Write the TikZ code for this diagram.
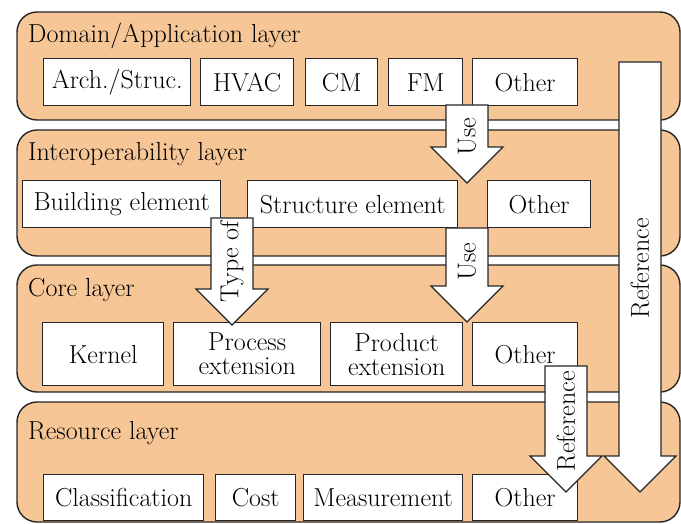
\documentclass[tikz,border=0pt]{standalone}
\usepackage{fontspec}
\usepackage{tikz}
\usetikzlibrary{calc}
\definecolor{layerfill}{RGB}{247,198,150}
\tikzset{
        layer/.style={draw=black!85, fill=layerfill, line width=1.4pt, rounded corners=20pt},
        part/.style={draw=black!85, fill=white, line width=1.4pt, inner sep=0pt, align=center, anchor=north west},
        title/.style={anchor=base west, inner sep=0pt},
        blockarrow/.style={draw=black!85, fill=white, line width=1.4pt},
        arrowlabel/.style={rotate=90, inner sep=0pt},
}
% #1 tail, #2 tip, #3 label name, #4 label position, #5 label
\newcommand{\layerarrow}[5]{%
        \draw[blockarrow] ($(#1)+(-21,0)$) -- ($(#1)+(21,0)$) -- ($(#2)+(21,-36)$) -- ($(#2)+(36,-36)$)
                -- (#2) -- ($(#2)+(-36,-36)$) -- ($(#2)+(-21,-36)$) -- cycle;
        \node[arrowlabel] (#3) at ($(#1)!#4!(#2)$) {#5};
}

\begin{document}
\begin{tikzpicture}[x=1pt, y=-1pt, font=\fontsize{26}{24}\selectfont]
                \useasboundingbox (0,0) rectangle (681,524);
                % layers
                \draw[layer] (17,12) rectangle (680,120);
                \draw[layer] (17,130) rectangle (680,256);
                \draw[layer] (17,265) rectangle (680,392);
                \draw[layer] (17,402) rectangle (680,522);
                \node[title] (domain) at (28,43) {Domain/Application layer};
                \node[title] (interop) at (28,161) {Interoperability layer};
                \node[title] (core) at (28,296) {Core layer};
                \node[title] (resource) at (28,439) {Resource layer};
                % domain/application
                \node[part, minimum width=147pt, minimum height=47pt] (arch) at (43,58) {Arch./Struc.};
                \node[part, minimum width=93pt, minimum height=47pt] (hvac) at (200,58) {HVAC};
                \node[part, minimum width=72pt, minimum height=47pt] (cm) at (305,58) {CM};
                \node[part, minimum width=74pt, minimum height=47pt] (fm) at (388,58) {FM};
                \node[part, minimum width=105pt, minimum height=47pt] (domother) at (472,58) {Other};
                % interoperability
                \node[part, minimum width=198pt, minimum height=47pt] (building) at (22,180) {Building element};
                \node[part, minimum width=210pt, minimum height=47pt] (structure) at (247,180) {Structure element};
                \node[part, minimum width=103pt, minimum height=47pt] (interother) at (487,180) {Other};
                % core
                \node[part, minimum width=121pt, minimum height=63pt] (kernel) at (42,322) {Kernel};
                \node[part, minimum width=147pt, minimum height=63pt] (process) at (173,322) {Process\\extension};
                \node[part, minimum width=132pt, minimum height=63pt] (product) at (330,322) {Product\\extension};
                \node[part, minimum width=105pt, minimum height=63pt] (coreother) at (472,322) {Other};
                % resource
                \node[part, minimum width=160pt, minimum height=46pt] (classif) at (43,474) {Classification};
                \node[part, minimum width=80pt, minimum height=46pt] (cost) at (215,474) {Cost};
                \node[part, minimum width=159pt, minimum height=46pt] (measure) at (303,474) {Measurement};
                \node[part, minimum width=105pt, minimum height=46pt] (resother) at (472,474) {Other};
                % arrows
                \coordinate (usetail) at (467,105);
                \coordinate (usetip) at (467,183);
                \coordinate (usetailb) at (467,228);
                \coordinate (usetipb) at (467,322);
                \coordinate (typetail) at (232,218);
                \coordinate (typetip) at (232,325);
                \coordinate (reftail) at (640,62);
                \coordinate (reftip) at (640,492);
                \coordinate (reftailb) at (566,366);
                \coordinate (reftipb) at (566,492);
                \layerarrow{usetail}{usetip}{use}{0.41}{Use}
                \layerarrow{usetailb}{usetipb}{useb}{0.36}{Use}
                \layerarrow{typetail}{typetip}{typeof}{0.41}{Type of}
                \layerarrow{reftail}{reftip}{ref}{0.48}{Reference}
                \layerarrow{reftailb}{reftipb}{refb}{0.44}{Reference}
        \end{tikzpicture}
\end{document}
